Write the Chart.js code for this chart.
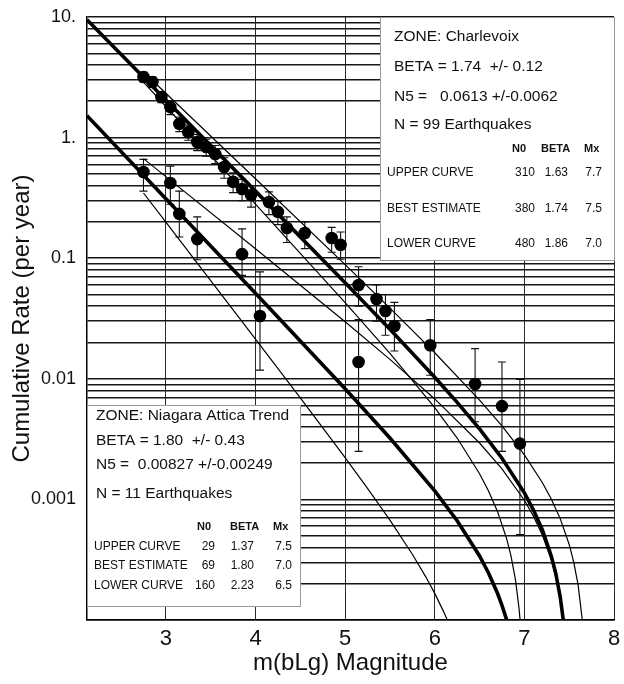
<!DOCTYPE html>
<html><head><meta charset="utf-8">
<script src="https://cdn.jsdelivr.net/npm/chart.js@4.4.0/dist/chart.umd.min.js"></script>
<style>html,body{margin:0;padding:0;background:#fff}#wrap{width:624px;height:684px;position:relative}</style>
</head><body><div id="wrap"><canvas id="c" width="624" height="684"></canvas></div>
<script>
// ---- observed data: Charlevoix ----
const charlevoixMag  = [2.75,2.85,2.95,3.05,3.15,3.25,3.35,3.45,3.55,3.65,3.75,3.85,3.95,4.15,4.25,4.35,4.55,4.85,4.95,5.15,5.35,5.45,5.55,5.95,6.45,6.75,6.95];
const charlevoixRate = [3.18,2.89,2.17,1.79,1.30,1.11,0.92,0.836,0.731,0.57,0.43,0.375,0.334,0.292,0.242,0.178,0.162,0.147,0.129,0.060,0.0459,0.0365,0.0274,0.019,0.00905,0.00594,0.0029];
const charlevoixLow  = [2.9,2.6,1.95,1.55,1.12,0.95,0.78,0.70,0.61,0.46,0.35,0.30,0.265,0.23,0.19,0.135,0.12,0.112,0.098,0.040,0.030,0.023,0.017,0.0107,0.0044,0.0025,0.00051];
const charlevoixHigh = [3.5,3.2,2.4,2.0,1.48,1.27,1.06,0.97,0.86,0.68,0.51,0.45,0.40,0.355,0.295,0.22,0.20,0.18,0.165,0.085,0.060,0.050,0.043,0.031,0.0178,0.0138,0.0099];
// ---- observed data: Niagara Attica Trend ----
const niagaraMag  = [2.75,3.05,3.15,3.35,3.85,4.05,5.15];
const niagaraRate = [0.518,0.42,0.233,0.144,0.108,0.0332,0.0138];
const niagaraLow  = [0.36,0.28,0.15,0.097,0.072,0.0118,0.0025];
const niagaraHigh = [0.66,0.58,0.36,0.22,0.175,0.077,0.031];
// ---- curves ----
const charBestMag   = [2.12,3,4,5,5.5,6,6.25,6.5,6.75,7.0,7.1,7.2,7.3,7.35,7.4,7.434];
const charBestRate  = [9.50,2.054,0.3599,0.06249,0.02570,0.010294,0.006376,0.003838,0.002196,0.001133,0.000822,0.000560,0.000340,0.000244,0.0001554,0.0001];
const charUpperMag  = [2.75,3,4,5,5.5,6,6.5,6.75,7.0,7.2,7.3,7.4,7.5,7.55,7.6,7.646];
const charUpperRate = [3.503,2.331,0.4557,0.08841,0.03852,0.01644,0.006665,0.004067,0.002339,0.001382,0.001009,0.000693,0.000423,0.000304,0.0001944,0.0001];
const charLowerMag  = [2.75,3,4,5,5.5,6,6.25,6.5,6.6,6.7,6.8,6.85,6.9,6.94,6.952];
const charLowerRate = [2.882,1.810,0.2808,0.04282,0.01625,0.005768,0.003228,0.001632,0.001174,0.000795,0.000479,0.000342,0.000217,0.0001258,0.0001];
const nigBestMag    = [2.12,3,4,5,5.5,6,6.25,6.5,6.6,6.7,6.75,6.803];
const nigBestRate   = [1.519,0.3114,0.05128,0.008283,0.003229,0.001175,0.0006648,0.0003396,0.0002453,0.0001666,0.0001322,0.0001];
const nigUpperMag   = [2.75,3,4,5,5.5,6,6.5,6.75,7.0,7.1,7.2,7.3,7.35,7.4,7.43];
const nigUpperRate  = [0.6692,0.4748,0.1199,0.02972,0.01449,0.006807,0.002936,0.001794,0.000984,0.000730,0.000508,0.0003153,0.0002282,0.0001469,0.0001];
const nigLowerMag   = [2.75,3,4,4.5,5,5.25,5.5,5.75,5.9,6.0,6.1,6.14];
const nigLowerRate  = [0.3473,0.1988,0.02131,0.006933,0.002219,0.001236,0.0006731,0.0003508,0.000228,0.0001662,0.0001168,0.0001];
// ---- ticks ----
const xTickValues = [3,4,5,6,7,8];
const yTickValues = [10,1,0.1,0.01,0.001];
const yTickLabels = ['10.','1.','0.1','0.01','0.001'];
const yDecades = [0.0001,0.001,0.01,0.1,1];
const yMinorMult = [1,2,3,4,5,6,7,8,9];
// ---- box texts ----
const tableRows = ['UPPER CURVE','BEST ESTIMATE','LOWER CURVE'];
const tableHead = ['N0','BETA','Mx'];
const charInfo = ['ZONE: Charlevoix','BETA = 1.74  +/- 0.12','N5 =   0.0613 +/-0.0062','N = 99 Earthquakes'];
const charN0 = ['310','380','480'], charBeta = ['1.63','1.74','1.86'], charMx = ['7.7','7.5','7.0'];
const nigInfo = ['ZONE: Niagara Attica Trend','BETA = 1.80  +/- 0.43','N5 =  0.00827 +/-0.00249','N = 11 Earthquakes'];
const nigN0 = ['29','69','160'], nigBeta = ['1.37','1.80','2.23'], nigMx = ['7.5','7.0','6.5'];

const FONT = '"Liberation Sans", Arial, Helvetica, sans-serif';
const pts = (xs, ys) => xs.map((x, i) => ({x, y: ys[i]}));
const yGridValues = [];
yDecades.forEach(d => yMinorMult.forEach(m => yGridValues.push(+(d*m).toPrecision(3))));
yGridValues.push(10);

function curve(label, xs, ys, w) {
  return {label, data: pts(xs, ys), borderColor: '#000', borderWidth: w, pointRadius: 0, fill: false, tension: 0, order: 5};
}

const overlay = {
  id: 'overlay',
  beforeDatasetsDraw(chart) {
    const ctx = chart.ctx, xs = chart.scales.x, ys = chart.scales.y, a = chart.chartArea;
    ctx.save();
    ctx.fillStyle = '#fff';
    ctx.fillRect(380, a.top, a.right - 380, 260 - a.top);
    ctx.strokeStyle = '#9a9a9a'; ctx.lineWidth = 1;
    ctx.strokeRect(380.5, a.top + 0.5, a.right - 380, 260 - a.top);
    ctx.fillRect(a.left, 405, 300 - a.left, 606 - 405);
    ctx.strokeRect(a.left + 0.5, 405.5, 300 - a.left, 606 - 405);
    ctx.fillStyle = '#111';
    ctx.textBaseline = 'middle';
    ctx.textAlign = 'left';
    ctx.font = '15.5px ' + FONT;
    [37, 67, 97, 125].forEach((y, i) => ctx.fillText(charInfo[i], 394, y));
    [416, 441, 465, 494].forEach((y, i) => ctx.fillText(nigInfo[i], 96, y));
    ctx.font = 'bold 11px ' + FONT;
    [512, 541, 584].forEach((x, i) => ctx.fillText(tableHead[i], x, 149));
    [197, 230, 273].forEach((x, i) => ctx.fillText(tableHead[i], x, 527));
    ctx.font = '12px ' + FONT;
    [173, 209, 244].forEach((y, i) => {
      ctx.textAlign = 'left'; ctx.fillText(tableRows[i], 387, y);
      ctx.textAlign = 'right';
      ctx.fillText(charN0[i], 535, y); ctx.fillText(charBeta[i], 568, y); ctx.fillText(charMx[i], 602, y);
    });
    [547, 566, 586].forEach((y, i) => {
      ctx.textAlign = 'left'; ctx.fillText(tableRows[i], 94, y);
      ctx.textAlign = 'right';
      ctx.fillText(nigN0[i], 215, y); ctx.fillText(nigBeta[i], 254, y); ctx.fillText(nigMx[i], 292, y);
    });
    ctx.strokeStyle = '#111'; ctx.lineWidth = 1.1;
    const bars = (mags, lo, hi) => mags.forEach((m, i) => {
      const px = xs.getPixelForValue(m), y1 = ys.getPixelForValue(lo[i]), y2 = ys.getPixelForValue(hi[i]);
      ctx.beginPath();
      ctx.moveTo(px, y1); ctx.lineTo(px, y2);
      ctx.moveTo(px - 4, y1); ctx.lineTo(px + 4, y1);
      ctx.moveTo(px - 4, y2); ctx.lineTo(px + 4, y2);
      ctx.stroke();
    });
    bars(charlevoixMag, charlevoixLow, charlevoixHigh);
    bars(niagaraMag, niagaraLow, niagaraHigh);
    ctx.restore();
  }
};

new Chart(document.getElementById('c'), {
  type: 'line',
  data: {
    datasets: [
      {label: 'Charlevoix data', data: pts(charlevoixMag, charlevoixRate), showLine: false, pointRadius: 6.3, pointBackgroundColor: '#000', pointBorderWidth: 0, order: 1},
      {label: 'Niagara data', data: pts(niagaraMag, niagaraRate), showLine: false, pointRadius: 6.3, pointBackgroundColor: '#000', pointBorderWidth: 0, order: 1},
      curve('Charlevoix best', charBestMag, charBestRate, 3.6),
      curve('Charlevoix upper', charUpperMag, charUpperRate, 1.2),
      curve('Charlevoix lower', charLowerMag, charLowerRate, 1.2),
      curve('Niagara best', nigBestMag, nigBestRate, 3.6),
      curve('Niagara upper', nigUpperMag, nigUpperRate, 1.2),
      curve('Niagara lower', nigLowerMag, nigLowerRate, 1.2)
    ]
  },
  options: {
    responsive: false, animation: false, devicePixelRatio: 1,
    layout: {padding: {top: 17, right: 10, left: 0, bottom: 0}},
    plugins: {legend: {display: false}, tooltip: {enabled: false}},
    scales: {
      x: {
        type: 'linear', min: 2.12, max: 8,
        afterBuildTicks: s => { s.ticks = xTickValues.map(v => ({value: v})); },
        afterFit: s => { s.height = 64; s.paddingRight = 0; s.paddingLeft = 0; },
        grid: {color: '#2a2a2a', lineWidth: 1, drawTicks: false},
        border: {display: true, color: '#000', width: 1.5},
        ticks: {padding: 6, color: '#111', font: {family: FONT, size: 22}, maxRotation: 0, autoSkip: false},
        title: {display: true, text: 'm(bLg) Magnitude', color: '#111', font: {family: FONT, size: 24}, padding: {top: 0, bottom: 6}}
      },
      y: {
        type: 'logarithmic', min: 0.0001, max: 10,
        afterBuildTicks: s => { s.ticks = yGridValues.map(v => ({value: v})); },
        afterFit: s => { s.width = 87; s.paddingTop = 0; s.paddingBottom = 0; },
        grid: {color: '#161616', lineWidth: 1.6, drawTicks: false},
        border: {display: true, color: '#000', width: 1.5},
        ticks: {
          padding: 11, color: '#111', font: {family: FONT, size: 18}, autoSkip: false,
          callback: v => { const i = yTickValues.findIndex(t => Math.abs(t - v) / t < 1e-6); return i >= 0 ? yTickLabels[i] : ''; }
        },
        title: {display: true, text: 'Cumulative Rate (per year)', color: '#111', font: {family: FONT, size: 24}, padding: {top: 8, bottom: 0}}
      }
    }
  },
  plugins: [overlay]
});
</script></body></html>
